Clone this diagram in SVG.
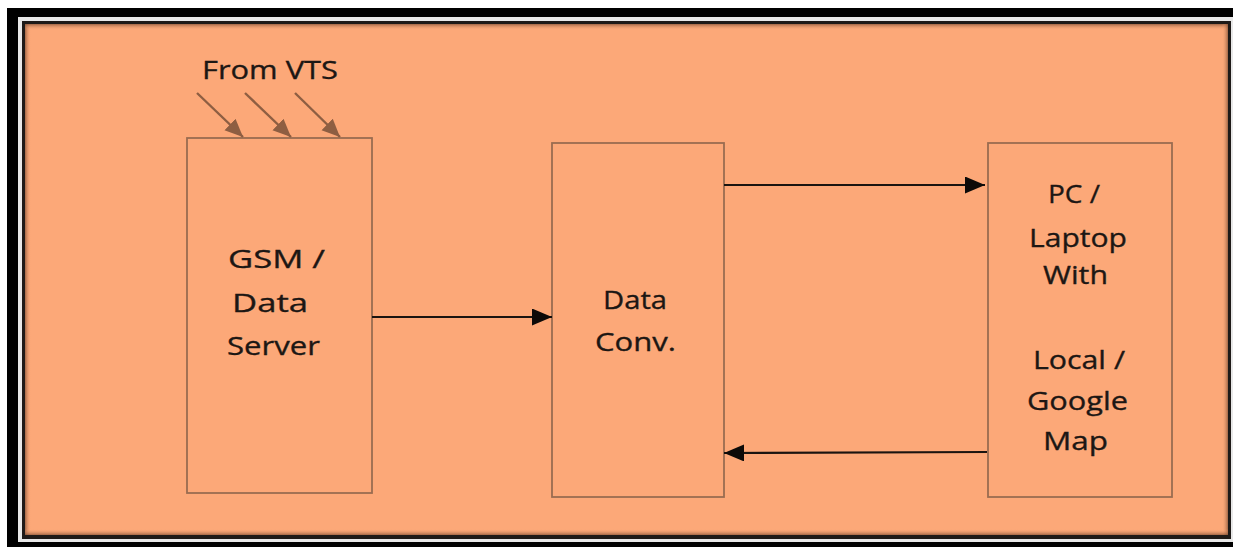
<svg xmlns="http://www.w3.org/2000/svg" width="1233" height="547" viewBox="0 0 1233 547">
  <defs>
    <style>
      .box { fill: none; stroke: #9a6c50; stroke-width: 1.8; }
      .lbl { font-family: "Open Sans", "DejaVu Sans", sans-serif; font-size: 26px; font-weight: 400; fill: #1c1714; stroke: #1c1714; stroke-width: 0.35; }
      .flow { stroke: #1a1410; stroke-width: 2.2; fill: none; }
      .feed { stroke: #8e5e42; stroke-width: 2.4; fill: none; }
    </style>
    <marker id="headBlack" markerUnits="userSpaceOnUse" markerWidth="21" markerHeight="18" refX="20" refY="8.5" orient="auto">
      <path d="M0,0 L20,8.5 L0,17 Z" fill="#0d0a08"/>
    </marker>
    <marker id="headBrown" markerUnits="userSpaceOnUse" markerWidth="19" markerHeight="17" refX="18" refY="8" orient="auto">
      <path d="M0,0 L18,8 L0,16 Z" fill="#8e5e42"/>
    </marker>
    <linearGradient id="shadeL" x1="0" x2="1" y1="0" y2="0">
      <stop offset="0" stop-color="#7a4a30" stop-opacity="0.7"/>
      <stop offset="1" stop-color="#fca878" stop-opacity="0"/>
    </linearGradient>
    <linearGradient id="shadeT" x1="0" x2="0" y1="0" y2="1">
      <stop offset="0" stop-color="#7a4a30" stop-opacity="0.7"/>
      <stop offset="1" stop-color="#fca878" stop-opacity="0"/>
    </linearGradient>
    <linearGradient id="shadeR" x1="1" x2="0" y1="0" y2="0">
      <stop offset="0" stop-color="#7a4a30" stop-opacity="0.7"/>
      <stop offset="1" stop-color="#fca878" stop-opacity="0"/>
    </linearGradient>
    <linearGradient id="shadeB" x1="0" x2="0" y1="1" y2="0">
      <stop offset="0" stop-color="#7a4a30" stop-opacity="0.7"/>
      <stop offset="1" stop-color="#fca878" stop-opacity="0"/>
    </linearGradient>
  </defs>

  <!-- page background and framed panel -->
  <rect x="0" y="0" width="1233" height="547" fill="#ffffff"/>
  <rect x="7" y="8" width="1226" height="539" fill="#000000"/>
  <rect x="18" y="17" width="1215" height="525" fill="#e8e8e8"/>
  <rect x="22" y="21" width="1209" height="518" fill="#1e1a18"/>
  <rect x="25" y="24" width="1203" height="511" fill="#fca878"/>
  <!-- inner edge shading -->
  <rect x="25" y="24" width="6" height="511" fill="url(#shadeL)"/>
  <rect x="25" y="24" width="1203" height="6" fill="url(#shadeT)"/>
  <rect x="1222" y="24" width="6" height="511" fill="url(#shadeR)"/>
  <rect x="25" y="529" width="1203" height="6" fill="url(#shadeB)"/>

  <!-- input label -->
  <g id="from-vts">
    <text class="lbl" x="202" y="79" textLength="136" lengthAdjust="spacingAndGlyphs">From VTS</text>
  </g>

  <g id="gsm-server">
    <rect class="box" x="187" y="138" width="185" height="355"/>
    <text class="lbl" x="228" y="268" textLength="97" lengthAdjust="spacingAndGlyphs">GSM /</text>
    <text class="lbl" x="232" y="312" textLength="76" lengthAdjust="spacingAndGlyphs">Data</text>
    <text class="lbl" x="227" y="355" textLength="93" lengthAdjust="spacingAndGlyphs">Server</text>
  </g>

  <g id="data-conv">
    <rect class="box" x="552" y="143" width="172" height="354"/>
    <text class="lbl" x="603" y="309" textLength="64" lengthAdjust="spacingAndGlyphs">Data</text>
    <text class="lbl" x="595" y="351" textLength="81" lengthAdjust="spacingAndGlyphs">Conv.</text>
  </g>

  <g id="pc-laptop">
    <rect class="box" x="988" y="143" width="184" height="354"/>
    <text class="lbl" x="1048" y="203" textLength="52" lengthAdjust="spacingAndGlyphs">PC /</text>
    <text class="lbl" x="1029" y="247" textLength="98" lengthAdjust="spacingAndGlyphs">Laptop</text>
    <text class="lbl" x="1043" y="284" textLength="65" lengthAdjust="spacingAndGlyphs">With</text>
    <text class="lbl" x="1033" y="369" textLength="92" lengthAdjust="spacingAndGlyphs">Local /</text>
    <text class="lbl" x="1027" y="410" textLength="101" lengthAdjust="spacingAndGlyphs">Google</text>
    <text class="lbl" x="1043" y="450" textLength="65" lengthAdjust="spacingAndGlyphs">Map</text>
  </g>

  <g id="connectors">
    <!-- incoming VTS feeds -->
    <line class="feed" x1="197" y1="93" x2="243" y2="137" marker-end="url(#headBrown)"/>
    <line class="feed" x1="245" y1="93" x2="291" y2="137" marker-end="url(#headBrown)"/>
    <line class="feed" x1="295" y1="93" x2="340" y2="137" marker-end="url(#headBrown)"/>
    <!-- data flow between blocks -->
    <line class="flow" x1="372" y1="317" x2="552" y2="317" marker-end="url(#headBlack)"/>
    <line class="flow" x1="724" y1="185" x2="985" y2="185" marker-end="url(#headBlack)"/>
    <line class="flow" x1="987" y1="452" x2="724" y2="453" marker-end="url(#headBlack)"/>
  </g>
</svg>
